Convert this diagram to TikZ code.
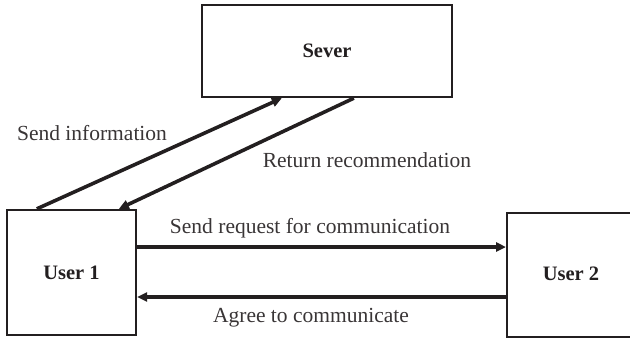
\documentclass[tikz,border=0pt]{standalone}
\usepackage{fontspec}
\setmainfont{Liberation Serif}
\usetikzlibrary{arrows.meta,calc}
\definecolor{ink}{HTML}{231F20}
\begin{document}
\begin{tikzpicture}[x=1pt,y=-1pt,
  box/.style={draw=ink,line width=2.3pt,rectangle,inner sep=0pt,font=\fontsize{20.5}{24}\selectfont\bfseries,text=ink},
  arr/.style={draw=ink,line width=3.6pt,-{Triangle[length=10pt,width=9pt]}},
  lbl/.style={font=\fontsize{21.5}{24}\selectfont,text=ink!90,inner sep=0pt}]
\useasboundingbox (0,0) rectangle (630,341);
\node[box,minimum width=250pt,minimum height=92pt] (sever) at (327,51) {Sever};
\node[box,minimum width=129pt,minimum height=125pt] (u1) at (71.5,272.5) {User 1};
\node[box,minimum width=126pt,minimum height=124pt,anchor=west] (u2) at (506,275) {};
\node[font=\fontsize{20.5}{24}\selectfont\bfseries,text=ink] (u2t) at (571,274) {User 2};
% diagonal arrows
\coordinate (a1) at ([xshift=31pt]u1.north west);
\coordinate (a2) at ([xshift=81pt]sever.south west);
\coordinate (b1) at ([xshift=153pt]sever.south west);
\coordinate (b2) at ([xshift=113pt]u1.north west);
\draw[arr] (a1) -- (a2);
\draw[arr] (b1) -- (b2);
% horizontal arrows
\coordinate (c1) at ([yshift=25.5pt]u1.east);
\coordinate (d1) at ([yshift=-24.5pt]u1.east);
\draw[arr] (c1) -- (c1 -| u2.west);
\draw[arr] (d1 -| u2.west) -- (d1);
% labels
\node[lbl] (l1) at (92,133) {Send information};
\node[lbl] (l2) at (367,160) {Return recommendation};
\node[lbl] (l3) at (310,228) {Send request for communication};
\node[lbl] (l4) at (311,318) {Agree to communicate};
\end{tikzpicture}
\end{document}
